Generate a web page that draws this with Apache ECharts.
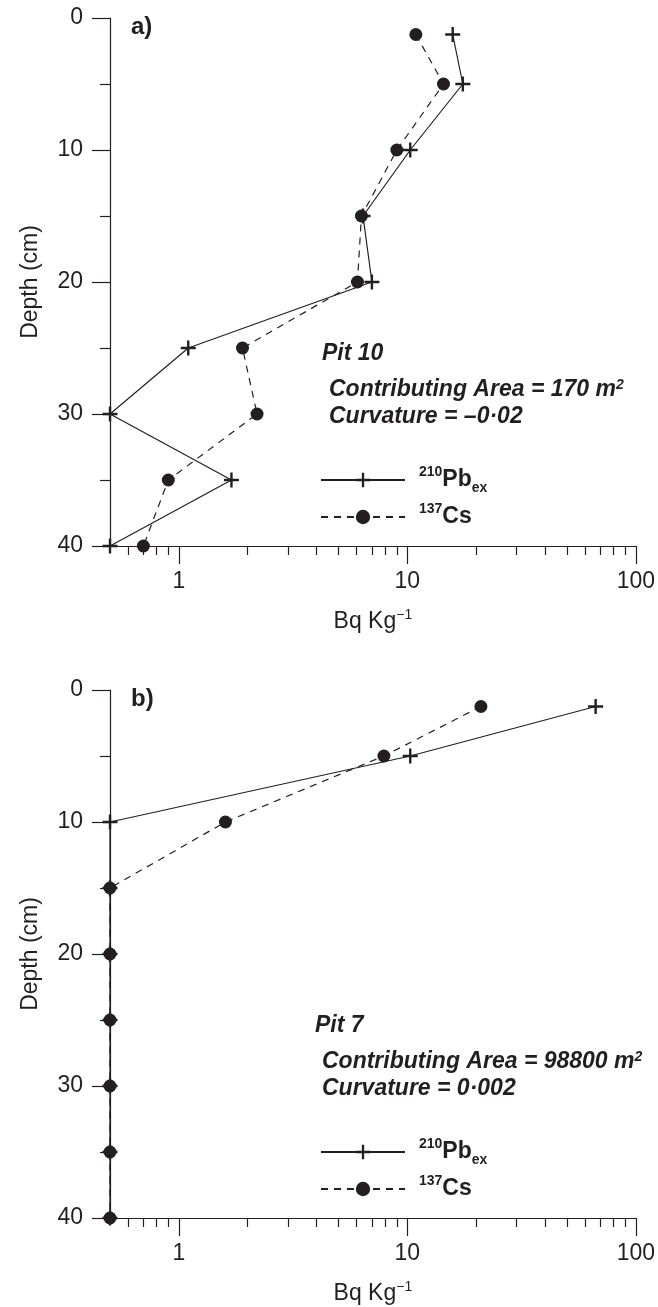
<!DOCTYPE html>
<html>
<head>
<meta charset="utf-8">
<script src="https://cdn.jsdelivr.net/npm/echarts@6/dist/echarts.min.js"></script>
<style>
html,body{margin:0;padding:0;background:#fff;}
#chart{width:658px;height:1307px;}
</style>
</head>
<body>
<div id="chart"></div>
<script>
// ---- data ----
const depths = [1.25, 5, 10, 15, 20, 25, 30, 35, 40];
const pbPit10 = [15.8, 17.5, 10.3, 6.4, 7.0, 1.1, 0.5, 1.7, 0.5];
const csPit10 = [10.9, 14.4, 9.0, 6.3, 6.05, 1.9, 2.2, 0.9, 0.7];
const pbPit7 = [66.7, 10.3, 0.5, 0.5, 0.5, 0.5, 0.5, 0.5, 0.5];
const csPit7 = [21.0, 7.9, 1.6, 0.5, 0.5, 0.5, 0.5, 0.5, 0.5];
const xMajorTicks = [1, 10, 100];
const xMinorTicks = [0.6, 0.7, 0.8, 0.9, 2, 3, 4, 5, 6, 7, 8, 9, 20, 30, 40, 50, 60, 70, 80, 90];
const xMin = 0.5, xMax = 100;
const yTicksInterval = 10;

const ink = '#231f20';
const font = 'Liberation Sans, Arial, sans-serif';
const L = Math.log10;
const plus = 'path://M0,6.3H6.3V0H8.7V6.3H15V8.7H8.7V15H6.3V8.7H0Z';

const chart = echarts.init(document.getElementById('chart'), null, {renderer: 'canvas'});

const grids = [
  {left: 110, top: 18, width: 527, height: 528},
  {left: 110, top: 690, width: 527, height: 528}
];

function xAxesFor(g) {
  return [
    {
      type: 'value', gridIndex: g, position: 'bottom',
      min: L(xMin), max: L(xMax),
      axisLine: {show: true, onZero: false, lineStyle: {color: ink, width: 1.2}},
      axisTick: {show: true, length: 18, inside: false, customValues: xMajorTicks.map(L), lineStyle: {color: ink, width: 1.2}},
      axisLabel: {show: true, customValues: xMajorTicks.map(L), margin: 24, color: ink, fontFamily: font, fontSize: 23,
        formatter: v => String(Math.round(Math.pow(10, v)))},
      splitLine: {show: false},
      name: '{a|Bq Kg}{s|−1}', nameLocation: 'middle', nameGap: 62,
      nameTextStyle: {rich: {
        a: {fontFamily: font, fontSize: 23, color: ink, lineHeight: 28, verticalAlign: 'middle'},
        s: {fontFamily: font, fontSize: 14, color: ink, lineHeight: 28, verticalAlign: 'top'}
      }}
    },
    {
      type: 'value', gridIndex: g, position: 'bottom',
      min: L(xMin), max: L(xMax),
      axisLine: {show: false, onZero: false},
      axisTick: {show: true, length: 9, customValues: xMinorTicks.map(L), lineStyle: {color: ink, width: 1.2}},
      axisLabel: {show: false},
      splitLine: {show: false}
    }
  ];
}

function yAxisFor(g) {
  return {
    type: 'value', gridIndex: g, inverse: true, min: 0, max: 40, interval: yTicksInterval,
    axisLine: {show: true, onZero: false, lineStyle: {color: ink, width: 1.2}},
    axisTick: {show: true, length: 18, lineStyle: {color: ink, width: 1.2}},
    minorTick: {show: true, splitNumber: 2, length: 10, lineStyle: {color: ink, width: 1.2}},
    axisLabel: {margin: 27, color: ink, fontFamily: font, fontSize: 23},
    splitLine: {show: false},
    name: 'Depth (cm)', nameLocation: 'middle', nameGap: 68,
    nameTextStyle: {fontFamily: font, fontSize: 23, color: ink}
  };
}

function pbSeries(name, vals, xi, yi) {
  return {
    name: name, type: 'line', xAxisIndex: xi, yAxisIndex: yi,
    data: vals.map((v, i) => [L(v), depths[i]]),
    symbol: plus, symbolSize: 15, clip: false,
    lineStyle: {color: ink, width: 1.2, type: 'solid'},
    itemStyle: {color: ink},
    z: 2
  };
}
function csSeries(name, vals, xi, yi) {
  return {
    name: name, type: 'line', xAxisIndex: xi, yAxisIndex: yi,
    data: vals.map((v, i) => [L(v), depths[i]]),
    symbol: 'circle', symbolSize: 13, clip: false,
    lineStyle: {color: ink, width: 1.2, type: [7, 6]},
    itemStyle: {color: ink},
    z: 3
  };
}

const legendRich = {
  sup: {fontFamily: font, fontSize: 14, fontWeight: 'bold', color: ink, lineHeight: 30, verticalAlign: 'top'},
  b: {fontFamily: font, fontSize: 23, fontWeight: 'bold', color: ink, lineHeight: 30, verticalAlign: 'middle'},
  sub: {fontFamily: font, fontSize: 14, fontWeight: 'bold', color: ink, lineHeight: 30, verticalAlign: 'bottom'}
};
function legendFor(top) {
  return {
    left: 320, top: top, padding: 0, orient: 'vertical', itemWidth: 84, itemHeight: 18, itemGap: 7,
    data: ['210Pb', '137Cs'], selectedMode: false,
    formatter: n => n === '210Pb' ? '{sup|210}{b|Pb}{sub|ex}' : '{sup|137}{b|Cs}',
    textStyle: {padding: [0, 0, 0, 9], rich: legendRich}
  };
}

const annRich = {
  t: {fontFamily: font, fontSize: 23, fontWeight: 'bold', fontStyle: 'italic', fill: ink, color: ink},
  s: {fontFamily: font, fontSize: 14, fontWeight: 'bold', fontStyle: 'italic', fill: ink, color: ink, verticalAlign: 'top', lineHeight: 23}
};
function txt(x, y, text, size, style) {
  return {type: 'text', x: x, y: y, style: {text: text, font: (style||'bold') + ' ' + size + 'px ' + font, fill: ink, verticalAlign: 'middle', align: 'left', rich: annRich}};
}

const option = {
  animation: false,
  backgroundColor: '#fff',
  grid: grids,
  xAxis: [...xAxesFor(0), ...xAxesFor(1)],
  yAxis: [yAxisFor(0), yAxisFor(1)],
  legend: [legendFor(465), legendFor(1137)],
  series: [
    pbSeries('210Pb', pbPit10, 0, 0),
    csSeries('137Cs', csPit10, 0, 0),
    pbSeries('210Pb', pbPit7, 2, 1),
    csSeries('137Cs', csPit7, 2, 1)
  ],
  graphic: [
    txt(131, 27, 'a)', 24, 'bold'),
    txt(322, 354, 'Pit 10', 23, 'italic bold'),
    txt(329, 390, '{t|Contributing Area = 170 m}{s|2}', 23, 'italic bold'),
    txt(329, 417, 'Curvature = –0·02', 23, 'italic bold'),
    txt(131, 699, 'b)', 24, 'bold'),
    txt(315, 1026, 'Pit 7', 23, 'italic bold'),
    txt(322, 1062, '{t|Contributing Area = 98800 m}{s|2}', 23, 'italic bold'),
    txt(322, 1089, 'Curvature = 0·002', 23, 'italic bold')
  ]
};
chart.setOption(option);
</script>
</body>
</html>
